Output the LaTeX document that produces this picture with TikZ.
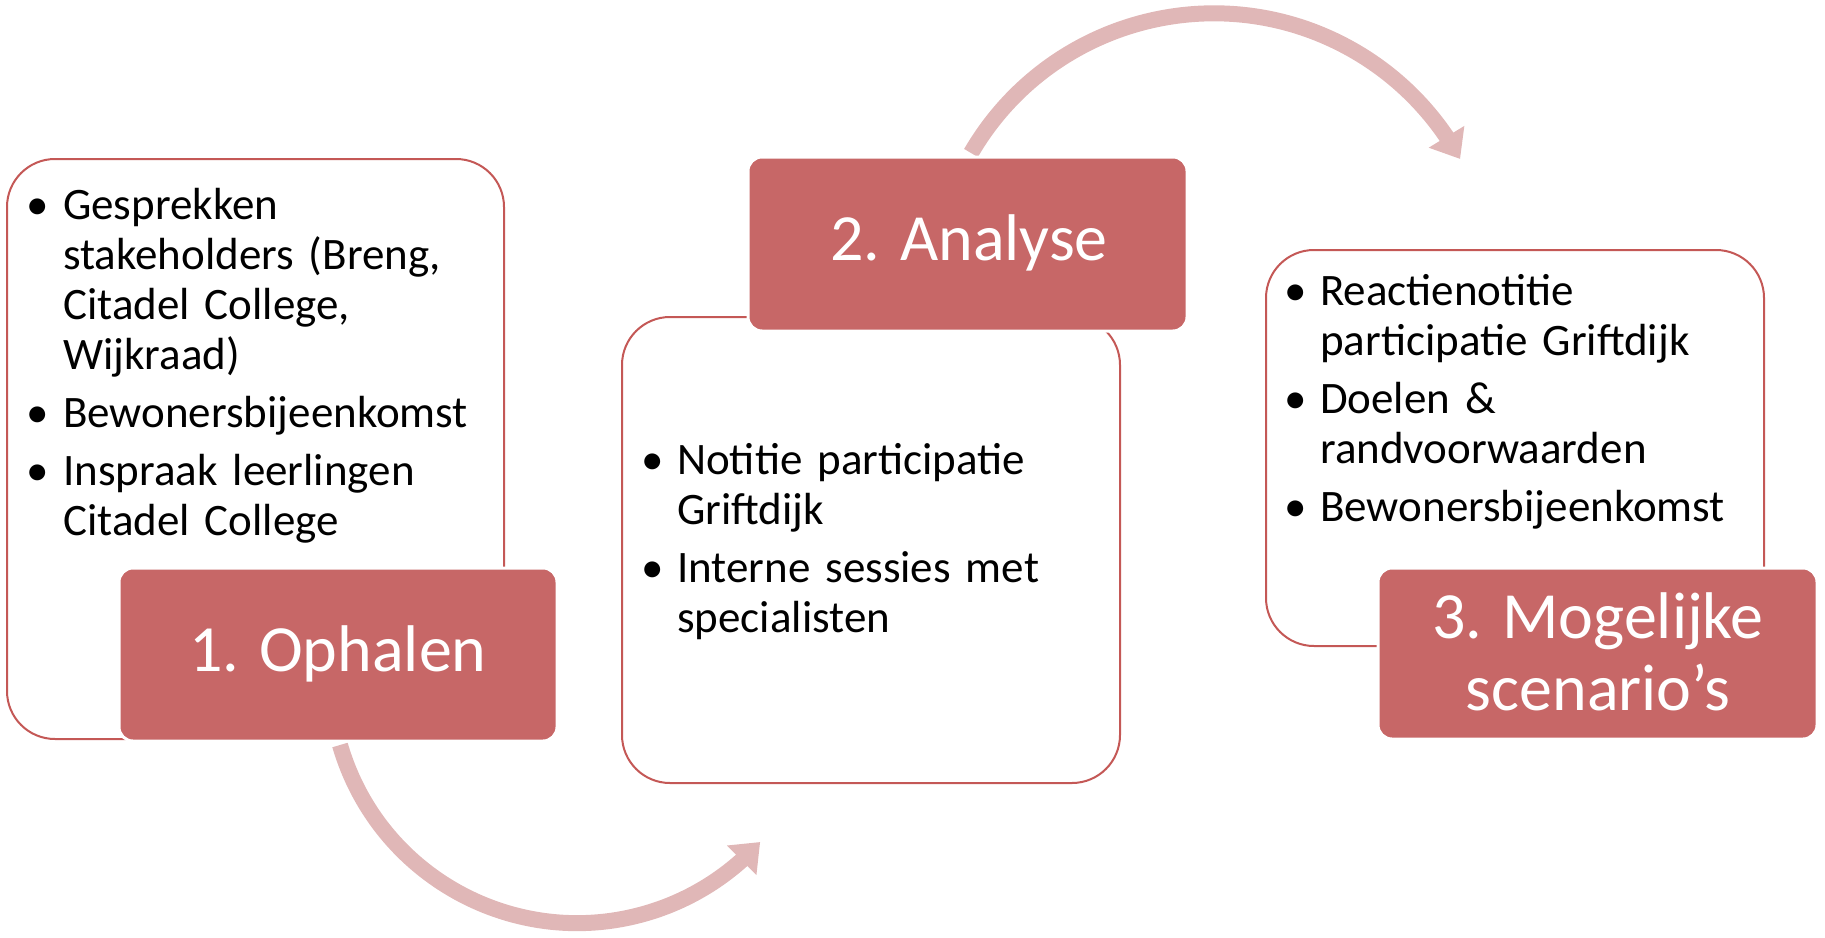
\documentclass[tikz,border=0pt]{standalone}
\usepackage{fontspec}
\setmainfont{Carlito}
\usetikzlibrary{arrows.meta,bending}
\definecolor{boxred}{RGB}{199,103,103}
\definecolor{edgered}{RGB}{196,88,86}
\definecolor{arrowpink}{RGB}{224,183,183}
\newcommand{\bitem}[1]{\par\hangindent=25pt\hangafter=1\noindent\makebox[25pt][l]{\makebox[0pt][c]{\textbullet}}#1\par}
\newcommand{\bgap}{\vskip 8pt}
\newcommand{\listfont}{\fontsize{45}{50}\selectfont\raggedright\spaceskip=0.16em plus 0.05em minus 0pt\relax}
\begin{document}
\begin{tikzpicture}[x=1pt,y=-1pt,
  outlinebox/.style={draw=edgered, line width=2pt, fill=white, rounded corners=48pt},
  labelbox/.style={draw=white, line width=3pt, fill=boxred, rounded corners=14pt},
  labeltext/.style={text=white, align=center, font=\fontsize{66}{72}\selectfont, inner sep=0pt},
  listtext/.style={anchor=north west, inner sep=0pt, text width=480pt, font=\listfont},
  cyclearrow/.style={draw=arrowpink, line width=16pt, -{Triangle[length=26pt,width=40pt,flex]}}
]
\useasboundingbox (0,0) rectangle (1825,937);

% arrows
\coordinate (a1s) at (340,745);
\coordinate (a2s) at (971,153);
\draw[cyclearrow] (a1s) arc[start angle=163.8, end angle=42.2, radius=247];
\draw[cyclearrow] (a2s) arc[start angle=-149.8, end angle=-28.8, radius=281];

% outline boxes
\draw[outlinebox] (7,159) rectangle (504,739);
\draw[outlinebox] (622,317) rectangle (1120,783);
\draw[outlinebox] (1266,250) rectangle (1764,646);

% label boxes
\path[labelbox] (119,568) rectangle (557,741);
\path[labelbox] (748,157) rectangle (1187,331);
\path[labelbox] (1378,568) rectangle (1817,739);

\node[labeltext] (l1) at (338,654) {1. Ophalen};
\node[labeltext] (l2) at (969,243) {2. Analyse};
\node[labeltext] (l3) at (1598,652) {3. Mogelijke\\scenario’s};

% lists
\node[listtext] (t1) at (38,169) {%
\bitem{Gesprekken\newline stakeholders (Breng,\newline Citadel College,\newline Wijkraad)}\bgap
\bitem{Bewonersbijeenkomst}\bgap
\bitem{Inspraak leerlingen\newline Citadel College}};

\node[listtext] (t2) at (652,424) {%
\bitem{Notitie participatie\newline Griftdijk}\bgap
\bitem{Interne sessies met\newline specialisten}};

\node[listtext] (t3) at (1295,255) {%
\bitem{Reactienotitie\newline participatie Griftdijk}\bgap
\bitem{Doelen \&\newline randvoorwaarden}\bgap
\bitem{Bewonersbijeenkomst}};
\end{tikzpicture}
\end{document}
